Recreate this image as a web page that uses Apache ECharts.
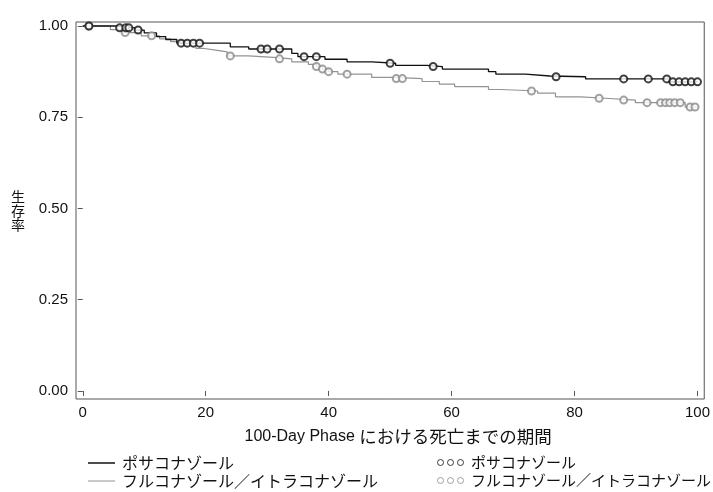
<!DOCTYPE html>
<html>
<head>
<meta charset="utf-8">
<script src="https://cdn.jsdelivr.net/npm/echarts@6/dist/echarts.min.js"></script>
<style>html,body{margin:0;padding:0;background:#fff;}#c{width:713px;height:492px;}</style>
</head>
<body>
<div id="c"></div>
<script>
// ---- data ----
const xTicks = [0, 20, 40, 60, 80, 100];
const yTicks = [0, 0.25, 0.5, 0.75, 1];
const groupNames = ['ポサコナゾール', 'フルコナゾール／イトラコナゾール'];
const xTitleLatin = '100-Day Phase ';
const xTitleJp = 'における死亡までの期間';
const yTitle = '生\n存\n率';

// Posaconazole KM steps (time, survival after step)
const posaTimes = [0, 5.5, 8.5, 10, 12, 13.5, 15.3, 24, 27, 34, 35, 39.4, 43, 47, 50.9, 56, 58.5, 66, 67.2, 72, 76, 81.8, 95.3, 100];
const posaSurv  = [1.0, 0.995, 0.989, 0.981, 0.971, 0.963, 0.953, 0.943, 0.937, 0.925, 0.916, 0.909, 0.902, 0.898, 0.892, 0.889, 0.882, 0.875, 0.868, 0.863, 0.861, 0.855, 0.847, 0.847];
const posaCensor = [1, 6, 7, 7.5, 9, 16, 17, 18, 19, 29, 30, 32, 36, 38, 50, 57, 77, 88, 92, 95, 96, 97, 98, 99, 100];

// Fluconazole / itraconazole KM steps
const flucTimes = [0, 4.5, 6.5, 9.5, 12.5, 14.3, 16, 18.4, 19.5, 21.6, 23.5, 27, 31, 34, 36.7, 38, 39, 40, 41.5, 47, 50.5, 55.2, 58, 60.5, 66, 68, 74, 76.9, 81, 85, 89.9, 98, 100];
const flucSurv  = [1.0, 0.99, 0.982, 0.973, 0.965, 0.957, 0.946, 0.939, 0.934, 0.929, 0.918, 0.914, 0.910, 0.902, 0.895, 0.889, 0.882, 0.875, 0.868, 0.859, 0.856, 0.848, 0.841, 0.834, 0.826, 0.822, 0.816, 0.806, 0.802, 0.797, 0.790, 0.778, 0.778];
const flucCensor = [1, 6.9, 11.2, 24, 32, 38, 39, 40, 43, 51, 52, 73, 84, 88, 91.8, 94, 94.8, 95.5, 96.3, 97.2, 98.8, 99.6];

// ---- helpers ----
function pairs(ts, ss) { return ts.map((t, i) => [t, ss[i]]); }
function survAt(ts, ss, t) {
  let v = ss[0];
  for (let i = 0; i < ts.length; i++) { if (ts[i] <= t) v = ss[i]; }
  return v;
}
function censorPts(cs, ts, ss) { return cs.map(t => [t, survAt(ts, ss, t)]); }

const BLACK = '#111111';
const GRAY = '#939393';
const GRAYC = '#8a8a8a';
const tickFont = 'Liberation Sans, Arial, sans-serif';
const jpFont = 'Noto Sans CJK JP, sans-serif';
const ringIcon = 'path://M0.5,3.5a3,3 0 1,0 6,0a3,3 0 1,0 -6,0ZM10.5,3.5a3,3 0 1,0 6,0a3,3 0 1,0 -6,0ZM20.5,3.5a3,3 0 1,0 6,0a3,3 0 1,0 -6,0Z';

function mkLegend(left, top, item, h, fs) {
  return {left: left, top: top, padding: 0, itemWidth: 27, itemHeight: h,
          textStyle: {fontFamily: jpFont, fontSize: fs, color: '#111', padding: [0, 0, 0, 2]},
          formatter: n => n.replace(/^c_/, ''), data: [item]};
}

const chart = echarts.init(document.getElementById('c'), null, {renderer: 'canvas'});
chart.setOption({
  animation: false,
  backgroundColor: '#fff',
  grid: {left: 76, right: 7, top: 22, bottom: 93, show: true, borderColor: '#555', borderWidth: 1, backgroundColor: 'transparent'},
  xAxis: {
    type: 'value', min: -1.1, max: 101.1,
    axisLine: {show: false},
    splitLine: {show: false},
    axisTick: {show: true, customValues: xTicks, length: 5, lineStyle: {color: '#555'}},
    axisLabel: {customValues: xTicks, fontFamily: tickFont, fontSize: 15, color: '#111', margin: 6},
    name: '{a|' + xTitleLatin + '}{b|' + xTitleJp + '}',
    nameLocation: 'middle', nameGap: 29,
    nameTextStyle: {
      color: '#111',
      padding: [0, 0, 0, 16],
      rich: {
        a: {fontFamily: tickFont, fontSize: 16, color: '#111'},
        b: {fontFamily: jpFont, fontSize: 17.5, color: '#111'}
      }
    }
  },
  yAxis: {
    type: 'value', min: -0.022, max: 1.011,
    axisLine: {show: false},
    splitLine: {show: false},
    axisTick: {show: true, customValues: yTicks, length: 5, lineStyle: {color: '#555'}},
    axisLabel: {customValues: yTicks, formatter: v => v.toFixed(2), fontFamily: tickFont, fontSize: 15, color: '#111', margin: 8},
    name: yTitle,
    nameLocation: 'middle', nameGap: 58, nameRotate: 0,
    nameTextStyle: {fontFamily: jpFont, fontSize: 14, lineHeight: 14, color: '#111', align: 'center', verticalAlign: 'middle', padding: [0, 0, 8, 0]}
  },
  legend: [
    mkLegend(88, 455, {name: groupNames[0], icon: 'rect', itemStyle: {color: BLACK}}, 1.5, 16),
    mkLegend(88, 473, {name: groupNames[1], icon: 'rect', itemStyle: {color: GRAY}}, 1, 16),
    mkLegend(437, 455, {name: 'c_' + groupNames[0], icon: ringIcon, itemStyle: {color: 'rgba(0,0,0,0)', borderColor: BLACK, borderWidth: 1}}, 6, 15),
    mkLegend(437, 473, {name: 'c_' + groupNames[1], icon: ringIcon, itemStyle: {color: 'rgba(0,0,0,0)', borderColor: GRAYC, borderWidth: 1}}, 6, 15)
  ],
  series: [
    {
      name: groupNames[1], type: 'line', step: 'end', symbol: 'none', z: 2,
      data: pairs(flucTimes, flucSurv),
      lineStyle: {color: GRAY, width: 1.2}, itemStyle: {color: GRAY}
    },
    {
      name: groupNames[0], type: 'line', step: 'end', symbol: 'none', z: 3,
      data: pairs(posaTimes, posaSurv),
      lineStyle: {color: BLACK, width: 1.3}, itemStyle: {color: BLACK}
    },
    {
      name: 'c_' + groupNames[1], type: 'scatter', symbol: 'emptyCircle', symbolSize: 7, z: 4,
      data: censorPts(flucCensor, flucTimes, flucSurv),
      itemStyle: {color: GRAYC, borderColor: GRAYC, borderWidth: 1.2}
    },
    {
      name: 'c_' + groupNames[0], type: 'scatter', symbol: 'emptyCircle', symbolSize: 7, z: 5,
      data: censorPts(posaCensor, posaTimes, posaSurv),
      itemStyle: {color: BLACK, borderColor: BLACK, borderWidth: 1.2}
    }
  ]
});
</script>
</body>
</html>
